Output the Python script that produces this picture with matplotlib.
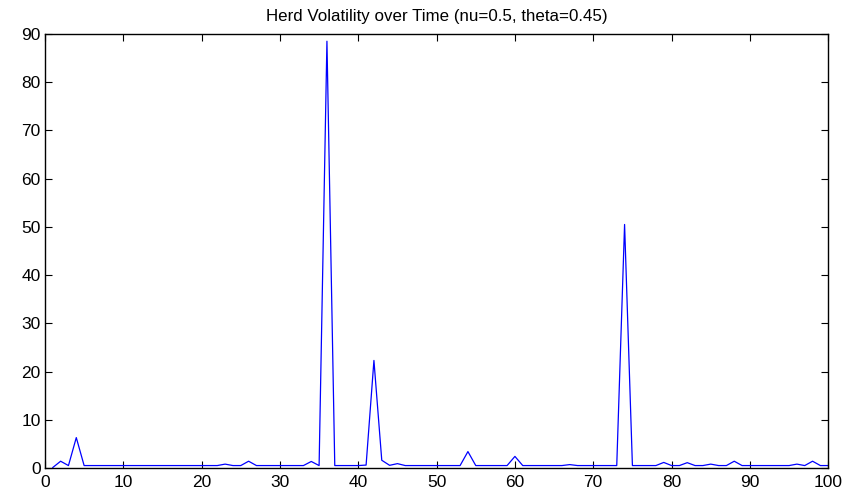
import numpy as np
import matplotlib
matplotlib.use("Agg")
import matplotlib.pyplot as plt

# time steps and herd volatility
t = list(range(1, 101))
volatility = [
    0.1, 1.4, 0.5, 6.3, 0.5, 0.5, 0.5, 0.5, 0.5, 0.5,      # 1-10
    0.5, 0.5, 0.5, 0.5, 0.5, 0.5, 0.5, 0.5, 0.5, 0.5,      # 11-20
    0.5, 0.5, 0.8, 0.5, 0.5, 1.4, 0.5, 0.5, 0.5, 0.5,      # 21-30
    0.5, 0.5, 0.5, 1.35, 0.5, 88.5, 0.5, 0.5, 0.5, 0.5,    # 31-40
    0.6, 22.3, 1.6, 0.55, 0.9, 0.5, 0.5, 0.5, 0.5, 0.5,    # 41-50
    0.5, 0.5, 0.5, 3.4, 0.5, 0.5, 0.5, 0.5, 0.5, 2.4,      # 51-60
    0.5, 0.5, 0.5, 0.5, 0.5, 0.5, 0.7, 0.5, 0.5, 0.5,      # 61-70
    0.5, 0.5, 0.5, 50.5, 0.5, 0.5, 0.5, 0.5, 1.15, 0.5,    # 71-80
    0.5, 1.1, 0.5, 0.5, 0.8, 0.5, 0.5, 1.4, 0.5, 0.5,      # 81-90
    0.5, 0.5, 0.5, 0.5, 0.5, 0.8, 0.5, 1.4, 0.5, 0.5,      # 91-100
]
xticks = list(range(0, 101, 10))
yticks = list(range(0, 91, 10))
title = "Herd Volatility over Time (nu=0.5, theta=0.45)"

plt.rcParams["font.family"] = ["Liberation Sans", "DejaVu Sans"]

fig = plt.figure(figsize=(8.58, 4.97), dpi=100)
ax = fig.add_axes([0.0524, 0.0584, 0.9129, 0.8732])
ax.plot(t, volatility, color="blue", linewidth=0.9)

ax.set_xlim(0, 100)
ax.set_ylim(0, 90)
ax.set_xticks(xticks)
ax.set_yticks(yticks)
ax.tick_params(direction="in", top=True, right=True, length=5, width=0.8,
               labelsize=12.5)
ax.tick_params(axis="x", pad=5)
ax.tick_params(axis="y", pad=3)
for s in ax.spines.values():
    s.set_linewidth(1.0)
ax.set_title(title, fontsize=12.2, pad=9)

fig.savefig("out.png", dpi=100)
